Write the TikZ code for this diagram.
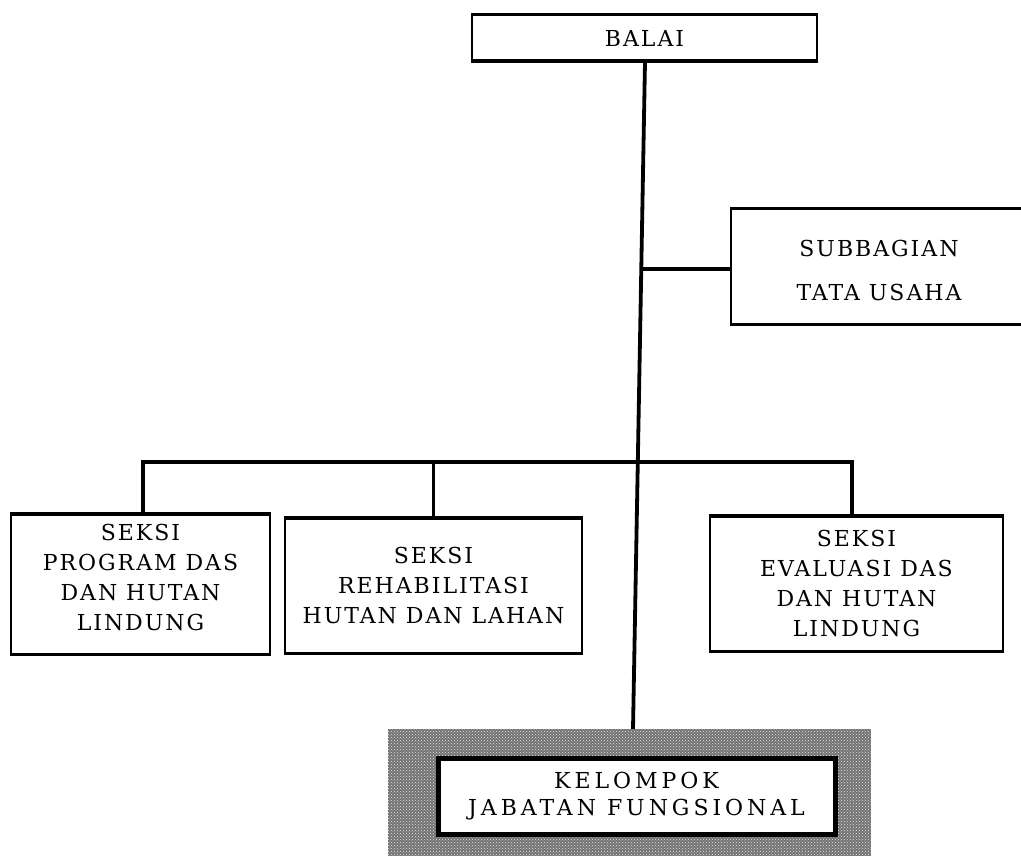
\documentclass[tikz,border=0pt]{standalone}
\usepackage{fontspec}
\setmainfont{DejaVu Serif}[LetterSpace=9]
\usetikzlibrary{patterns}
\begin{document}
\begin{tikzpicture}[x=1pt,y=-1pt,
  box/.style={draw, line width=1.4pt, fill=white, inner sep=0pt, align=center,
    font=\fontsize{22}{29.7}\selectfont,
    path picture={\draw[line width=5pt] (path picture bounding box.north west) -- (path picture bounding box.north east);
                  \draw[line width=5pt] (path picture bounding box.south west) -- (path picture bounding box.south east);}},
  lbl/.style={inner sep=0pt, align=center, font=\fontsize{22}{29.7}\selectfont},
  conn/.style={line width=3.8pt},
  shade/.style={preaction={fill=black!55}, pattern=crosshatch dots, pattern color=white!90!black, inner sep=0pt},
  inbox/.style={draw, line width=5pt, fill=white, inner sep=0pt, align=center,
    font=\fontsize{22}{27}\selectfont\addfontfeature{LetterSpace=18}}]
\useasboundingbox (0,0) rectangle (1021,856);

\node[box, minimum width=345pt, minimum height=48pt] (balai) at (644.5,38) {BALAI};
\node[box, minimum width=299pt, minimum height=117pt] (sub) at (880.5,266.5) {};
\node[lbl, font=\fontsize{22}{44}\selectfont] (subtxt) at (879,270) {SUBBAGIAN\\TATA USAHA};
\node[box, minimum width=259pt, minimum height=142pt] (left) at (140.5,584) {};
\node[lbl] (lefttxt) at (140.5,577.5) {SEKSI\\PROGRAM DAS\\DAN HUTAN\\LINDUNG};
\node[box, minimum width=297pt, minimum height=137pt] (mid) at (433.5,585.5) {SEKSI\\REHABILITASI\\HUTAN DAN LAHAN};
\node[box, minimum width=293pt, minimum height=137pt] (right) at (856.5,583.5) {SEKSI\\EVALUASI DAS\\DAN HUTAN\\LINDUNG};
\node[shade, minimum width=483pt, minimum height=131pt] (kout) at (629.5,794.5) {};
\node[inbox, minimum width=397pt, minimum height=76pt] (kel) at (636.5,796) {KELOMPOK\\JABATAN FUNGSIONAL};

\coordinate (vt) at (645,62);
\coordinate (vb) at (633,729);
\coordinate (j1) at (641.3,269);
\coordinate (busL) at (143,462);
\coordinate (busR) at (852,462);

\draw[conn] (vt) -- (vb);
\draw[conn] (j1) -- (j1 -| sub.west);
\draw[conn] (left.north -| busL) -- (busL) -- (busR) -- (right.north -| busR);
\draw[conn] (mid.north) -- (mid.north |- busL);
\end{tikzpicture}
\end{document}
